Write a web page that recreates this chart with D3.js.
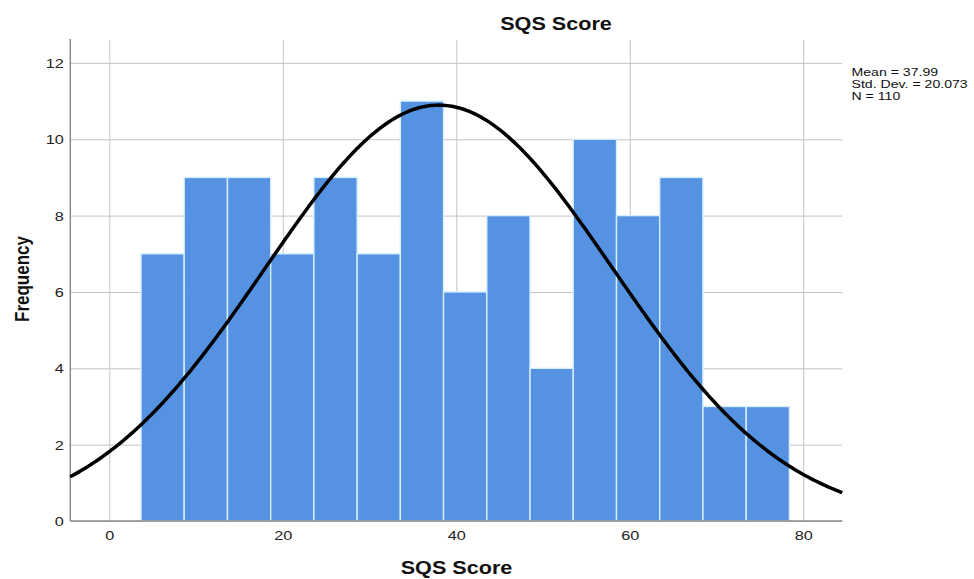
<!DOCTYPE html>
<html>
<head>
<meta charset="utf-8">
<script src="https://cdn.jsdelivr.net/npm/d3@7"></script>
<style>
  html, body { margin: 0; padding: 0; background: #fff; }
  svg { display: block; font-family: Arial, "Liberation Sans", sans-serif; }
</style>
</head>
<body>
<svg id="chart" width="974" height="579"></svg>
<script>
// ---- data ----
const binEdges = [3.65, 8.63, 13.62, 18.6, 23.58, 28.57, 33.55, 38.53, 43.52, 48.5, 53.48, 58.47, 63.45, 68.43, 73.42, 78.4];
const counts   = [7, 9, 9, 7, 9, 7, 11, 6, 8, 4, 10, 8, 9, 3, 3];
const xTicks = [0, 20, 40, 60, 80];
const yTicks = [0, 2, 4, 6, 8, 10, 12];
const statLines = ["Mean = 37.99", "Std. Dev. = 20.073", "N = 110"];
const mean = 37.99, sd = 20.073, N = 110;
const titleText = "SQS Score";
const xLabel = "SQS Score";
const yLabel = "Frequency";

// ---- layout ----
const svg = d3.select("#chart");
const x = d3.scaleLinear().domain([-4.5, 84.5]).range([70.3, 842.3]);
const y = d3.scaleLinear().domain([0, 12.6]).range([521, 40]);
const sx = 1.25; // horizontal stretch of the reference's text

// gridlines
const gGridY = svg.append("g").attr("transform", `translate(${x.range()[0]},0)`)
  .call(d3.axisLeft(y).tickValues(yTicks).tickSize(-(x.range()[1] - x.range()[0])).tickFormat(""));
gGridY.select(".domain").remove();
gGridY.selectAll("line").attr("stroke", "#c4c4c4").attr("stroke-width", 1);

const gGridX = svg.append("g").attr("transform", `translate(0,${y.range()[0]})`)
  .call(d3.axisBottom(x).tickValues(xTicks).tickSize(-(y.range()[0] - y.range()[1])).tickFormat(""));
gGridX.select(".domain").remove();
gGridX.selectAll("line").attr("stroke", "#c4c4c4").attr("stroke-width", 1);

// bars
svg.append("g").selectAll("rect").data(counts).join("rect")
  .attr("x", (d, i) => x(binEdges[i]))
  .attr("width", (d, i) => x(binEdges[i + 1]) - x(binEdges[i]))
  .attr("y", d => y(d))
  .attr("height", d => y(0) - y(d))
  .attr("fill", "#5592e2")
  .attr("stroke", "#d6efff")
  .attr("stroke-width", 1.4);

// axis lines
svg.append("line").attr("x1", x.range()[0]).attr("x2", x.range()[0])
  .attr("y1", y.range()[1] - 1).attr("y2", y.range()[0])
  .attr("stroke", "#8a8a8a").attr("stroke-width", 1.5);
svg.append("line").attr("x1", x.range()[0]).attr("x2", x.range()[1])
  .attr("y1", y.range()[0]).attr("y2", y.range()[0])
  .attr("stroke", "#8a8a8a").attr("stroke-width", 1.5);

// tick labels via axes
const gy = svg.append("g").attr("transform", `translate(${x.range()[0]},0)`)
  .call(d3.axisLeft(y).tickValues(yTicks).tickSize(0).tickPadding(0));
gy.select(".domain").remove();
gy.selectAll("text").attr("x", null).attr("dy", null)
  .attr("font-size", 13).attr("fill", "#222").attr("font-family", "Arial, 'Liberation Sans', sans-serif")
  .attr("text-anchor", "end")
  .attr("transform", `translate(-6.5,4.6) scale(${sx},1)`);

const gx = svg.append("g").attr("transform", `translate(0,${y.range()[0]})`)
  .call(d3.axisBottom(x).tickValues(xTicks).tickSize(0).tickPadding(0));
gx.select(".domain").remove();
gx.selectAll("text").attr("y", null).attr("dy", null)
  .attr("font-size", 13).attr("fill", "#222").attr("font-family", "Arial, 'Liberation Sans', sans-serif")
  .attr("text-anchor", "middle")
  .attr("transform", `translate(0,18.5) scale(${sx},1)`);

// normal curve
const binWidth = (binEdges[binEdges.length - 1] - binEdges[0]) / counts.length;
const dens = v => N * binWidth / (sd * Math.sqrt(2 * Math.PI)) * Math.exp(-0.5 * ((v - mean) / sd) ** 2);
const xs = d3.range(x.domain()[0], x.domain()[1] + 0.001, 0.25);
svg.append("path").datum(xs)
  .attr("d", d3.line().x(v => x(v)).y(v => y(dens(v))))
  .attr("fill", "none").attr("stroke", "#000").attr("stroke-width", 3.5);

// title
svg.append("text").attr("transform", `translate(556,30) scale(1.2,1)`)
  .attr("text-anchor", "middle").attr("font-size", 18).attr("font-weight", "bold")
  .attr("fill", "#111").text(titleText);

// x label
svg.append("text").attr("transform", `translate(456.5,574) scale(1.2,1)`)
  .attr("text-anchor", "middle").attr("font-size", 18).attr("font-weight", "bold")
  .attr("fill", "#111").text(xLabel);

// y label
svg.append("text").attr("transform", `translate(29,279) rotate(-90) scale(1,1.17)`)
  .attr("text-anchor", "middle").attr("font-size", 17).attr("font-weight", "bold")
  .attr("fill", "#111").text(yLabel);

// stats
const gs = svg.append("g");
statLines.forEach((t, i) => {
  gs.append("text").attr("transform", `translate(851.5,${75.5 + i * 12}) scale(1.32,1)`)
    .attr("font-size", 10.7).attr("fill", "#111").text(t);
});
</script>
</body>
</html>
